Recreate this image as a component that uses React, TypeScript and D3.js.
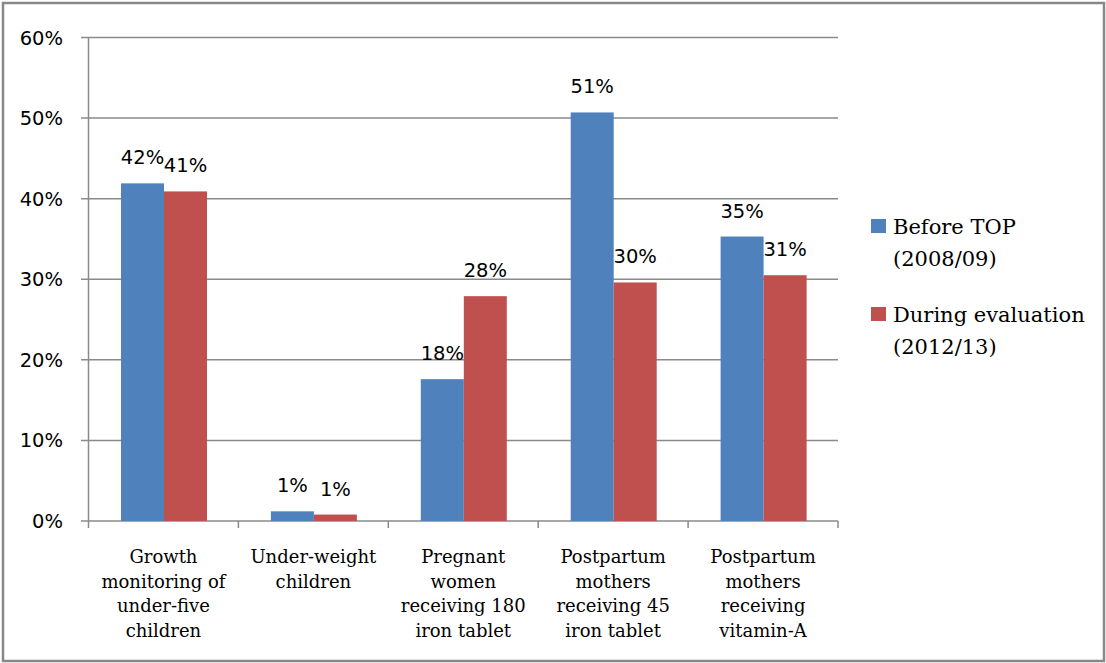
import React, { useEffect, useRef } from 'react';
import * as d3 from 'd3';

// categories (as wrapped in the original)
const categories = ['growth', 'underweight', 'pregnant', 'postpartum45', 'vitaminA'];
const categoryLines = [
  ['Growth', 'monitoring of', 'under-five', 'children'],
  ['Under-weight', 'children'],
  ['Pregnant', 'women', 'receiving 180', 'iron tablet'],
  ['Postpartum', 'mothers', 'receiving 45', 'iron tablet'],
  ['Postpartum', 'mothers', 'receiving', 'vitamin-A'],
];

// series values (%)
const beforeTop = [41.9, 1.2, 17.6, 50.7, 35.3];
const duringEval = [40.9, 0.8, 27.9, 29.6, 30.5];

const seriesNames = [['Before TOP', '(2008/09)'], ['During evaluation', '(2012/13)']];
const seriesColors = ['#4F81BD', '#C0504D'];
const yTicks = [0, 10, 20, 30, 40, 50, 60];

const W = 1106;
const H = 663;
const NUM_FONT = '"DejaVu Sans", sans-serif';
const TXT_FONT = '"DejaVu Serif", serif';

const App = () => {
  const ref = useRef<SVGSVGElement | null>(null);

  useEffect(() => {
    const svg = d3.select(ref.current);
    svg.selectAll('*').remove();

    const left = 88.5;
    const right = 838;
    const top = 37.5;
    const bottom = 521;

    // outer frame
    svg.append('rect')
      .attr('x', 3).attr('y', 3)
      .attr('width', W - 5).attr('height', H - 5)
      .attr('fill', '#fff')
      .attr('stroke', '#888')
      .attr('stroke-width', 2.5);

    const x0 = d3.scaleBand<string>().domain(categories).range([left, right]).padding(0);
    const x1 = d3.scaleBand<string>().domain(['0', '1']).range([32.5, 118.5]).padding(0);
    const y = d3.scaleLinear().domain([0, 60]).range([bottom, top]);

    // gridlines
    svg.append('g')
      .selectAll('line')
      .data(yTicks)
      .enter()
      .append('line')
      .attr('x1', 81).attr('x2', right)
      .attr('y1', d => y(d)).attr('y2', d => y(d))
      .attr('stroke', '#8a8a8a')
      .attr('stroke-width', 1.5);

    // y axis line
    svg.append('line')
      .attr('x1', left).attr('x2', left)
      .attr('y1', top).attr('y2', bottom)
      .attr('stroke', '#8a8a8a').attr('stroke-width', 1.5);

    // y tick labels
    svg.append('g')
      .selectAll('text')
      .data(yTicks)
      .enter()
      .append('text')
      .attr('x', 63)
      .attr('y', d => y(d))
      .attr('dy', '0.36em')
      .attr('text-anchor', 'end')
      .attr('font-family', NUM_FONT)
      .attr('font-size', 19.5)
      .attr('fill', '#000')
      .text(d => `${d}%`);

    // category ticks
    const edges = categories.map(c => x0(c) as number).concat([right]);
    svg.append('g')
      .selectAll('line')
      .data(edges)
      .enter()
      .append('line')
      .attr('x1', d => d).attr('x2', d => d)
      .attr('y1', bottom).attr('y2', bottom + 7)
      .attr('stroke', '#8a8a8a').attr('stroke-width', 1.5);

    // bars
    const series = [beforeTop, duringEval];
    series.forEach((vals, si) => {
      const g = svg.append('g');
      g.selectAll('rect')
        .data(vals)
        .enter()
        .append('rect')
        .attr('x', (d, i) => (x0(categories[i]) as number) + (x1(String(si)) as number))
        .attr('y', d => y(d))
        .attr('width', x1.bandwidth())
        .attr('height', d => bottom - y(d))
        .attr('fill', seriesColors[si]);

      g.selectAll('text')
        .data(vals)
        .enter()
        .append('text')
        .attr('x', (d, i) => (x0(categories[i]) as number) + (x1(String(si)) as number) + x1.bandwidth() / 2)
        .attr('y', d => y(d) - 19)
        .attr('text-anchor', 'middle')
        .attr('font-family', NUM_FONT)
        .attr('font-size', 19.5)
        .attr('fill', '#000')
        .text(d => `${Math.round(d)}%`);
    });

    // category labels
    const lab = svg.append('g');
    categories.forEach((c, i) => {
      const cx = (x0(c) as number) + x0.bandwidth() / 2;
      lab.append('text')
        .attr('text-anchor', 'middle')
        .attr('font-family', TXT_FONT)
        .attr('font-size', 18)
        .attr('fill', '#000')
        .selectAll('tspan')
        .data(categoryLines[i])
        .enter()
        .append('tspan')
        .attr('x', cx)
        .attr('y', (d, k) => 563 + k * 24.7)
        .text(d => d);
    });

    // legend
    const legendTop = [219, 307];
    seriesNames.forEach((lines, si) => {
      svg.append('rect')
        .attr('x', 871).attr('y', legendTop[si])
        .attr('width', 15).attr('height', 14)
        .attr('fill', seriesColors[si]);
      svg.append('text')
        .attr('font-family', TXT_FONT)
        .attr('font-size', 21)
        .attr('fill', '#000')
        .selectAll('tspan')
        .data(lines)
        .enter()
        .append('tspan')
        .attr('x', 893)
        .attr('y', (d, k) => legendTop[si] + 15 + k * 31.5)
        .text(d => d);
    });
  }, []);

  return (
    <svg
      ref={ref}
      width={W}
      height={H}
      style={{ position: 'absolute', left: 0, top: 0, display: 'block' }}
    />
  );
};

export default App;
